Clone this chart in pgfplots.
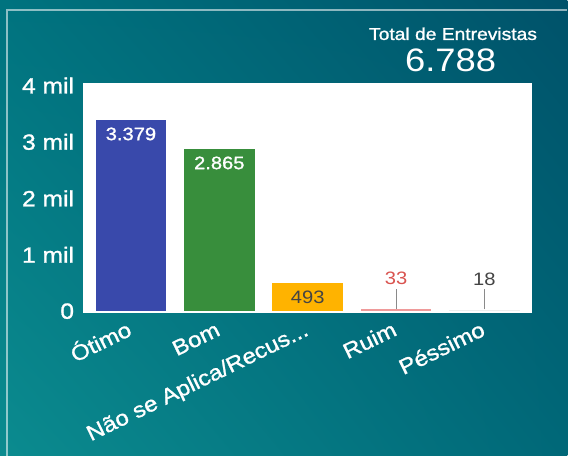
\documentclass[border=0pt]{standalone}
\usepackage{pgfplots}
\pgfplotsset{compat=1.18}
\usetikzlibrary{shadings}
\usepackage{fontspec}
\setmainfont{Liberation Sans}[FakeStretch=1.12]
\newfontfamily\medf{Liberation Sans}[FakeStretch=1.12, FakeBold=1.2]
\definecolor{cOtimo}{HTML}{3949AB}
\definecolor{cBom}{HTML}{388E3C}
\definecolor{cNao}{HTML}{FFB300}
\definecolor{cRuim}{HTML}{EF9A9A}
\definecolor{cPess}{HTML}{EEEEEE}
\definecolor{cRed}{HTML}{D9534F}
\definecolor{cDark}{HTML}{444444}
\definecolor{cLine}{HTML}{8A8A8A}
\definecolor{bgLL}{HTML}{0B8B8F}
\definecolor{bgUL}{HTML}{00737F}
\definecolor{bgLR}{HTML}{006878}
\definecolor{bgUR}{HTML}{00526A}
\newcommand{\dotsx}{.\kern0pt.\kern0pt.}
\begin{document}
\begin{tikzpicture}[x=1bp,y=1bp]
\shade[lower left=bgLL, upper left=bgUL, lower right=bgLR, upper right=bgUR] (0,0) rectangle (568,456);
\draw[white, opacity=0.55, line width=1.2bp] (7,0) -- (7,446) -- (568,446);
\node[text=white, font=\medf\fontsize{17.2bp}{19bp}\selectfont, anchor=base] at (453.5,416) {Total de Entrevistas};
\node[text=white, font=\fontsize{32.5bp}{34bp}\selectfont, anchor=base] at (451,384.3) {6.788};
\begin{axis}[
  at={(83.3bp,142.7bp)}, anchor=south west,
  scale only axis, width=449.4bp, height=230.6bp,
  xmin=-0.54, xmax=4.54, ymin=-32, ymax=4050,
  axis background/.style={fill=white},
  axis line style={draw=none},
  major tick length=0pt,
  ytick={0,1000,2000,3000,4000},
  yticklabels={0,1 mil,2 mil,3 mil,4 mil},
  yticklabel style={text=white, font=\medf\fontsize{22bp}{24bp}\selectfont, anchor=east, inner sep=0pt, xshift=-9bp},
  xtick={0,1,2,3,4},
  xticklabels={Ótimo,Bom,{Não se Aplica/Recus\dotsx},Ruim,Péssimo},
  xticklabel style={text=white, font=\medf\fontsize{21.5bp}{23bp}\selectfont, xshift=-1bp, yshift=-15bp, rotate=26, anchor=north east, inner sep=0pt, text height=0.72em, text depth=0.21em},
  ybar, bar width=0.8,
  /pgf/number format/.cd, 1000 sep={.}, assume math mode=true,
]
\addplot[fill=cOtimo, draw=none, bar shift=0pt, nodes near coords,
  nodes near coords style={anchor=center, yshift=-13.5bp, text=white, font=\medf\fontsize{18bp}{19bp}\selectfont}]
  coordinates {(0,3379)};
\addplot[fill=cBom, draw=none, bar shift=0pt, nodes near coords,
  nodes near coords style={anchor=center, yshift=-13.5bp, text=white, font=\medf\fontsize{18bp}{19bp}\selectfont}]
  coordinates {(1,2865)};
\addplot[fill=cNao, draw=none, bar shift=0pt, nodes near coords,
  nodes near coords style={anchor=center, yshift=-14bp, text=cDark, font=\fontsize{18bp}{19bp}\selectfont}]
  coordinates {(2,493)};
\addplot[fill=cRuim, draw=none, bar shift=0pt,
  nodes near coords={\textcolor{cRed}{\pgfmathprintnumber{\pgfplotspointmeta}}\\[3bp]\textcolor{cLine}{\rule{1bp}{20bp}}},
  nodes near coords style={anchor=south, align=center, inner sep=0pt, yshift=0.5bp, font=\fontsize{18bp}{19bp}\selectfont}]
  coordinates {(3,33)};
\addplot[fill=cPess, draw=none, bar shift=0pt,
  nodes near coords={\textcolor{cDark}{\pgfmathprintnumber{\pgfplotspointmeta}}\\[3bp]\textcolor{cLine}{\rule{1bp}{20bp}}},
  nodes near coords style={anchor=south, align=center, inner sep=0pt, yshift=0.5bp, font=\fontsize{18bp}{19bp}\selectfont}]
  coordinates {(4,18)};
\end{axis}
\end{tikzpicture}
\end{document}
